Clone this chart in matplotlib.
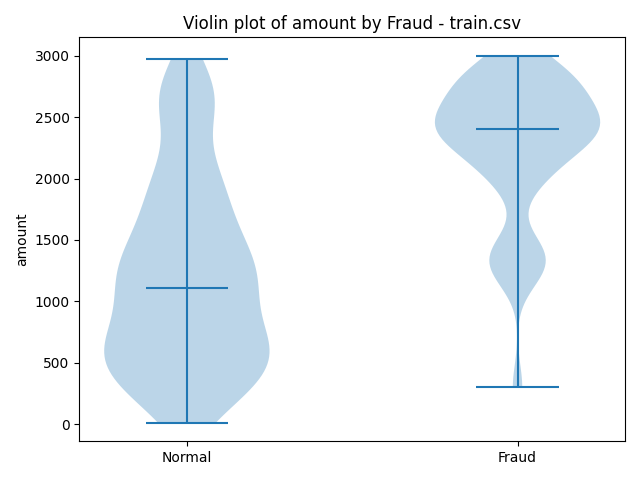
import matplotlib
matplotlib.use('Agg')
import matplotlib.pyplot as plt

# amount samples per class (hand-read to match the shapes)
normal_amount = [10, 120, 180, 230, 280, 320, 360, 400, 430, 460, 490,
                 520, 550, 580, 610, 640, 670, 700,
                 740, 780, 820, 870, 920, 970, 1020, 1070, 1110, 1135,
                 1170, 1210, 1250, 1290, 1330, 1370, 1410,
                 1460, 1510, 1570, 1630, 1700, 1770, 1840, 1910, 1980, 2050, 2150,
                 2300, 2500, 2580, 2650, 2720, 2800, 2975]
fraud_amount = [300, 1150, 1250, 1300, 1330, 1360, 1420, 1500,
                1900, 1980, 2050, 2100, 2150, 2200,
                2230, 2260, 2290, 2320, 2350, 2370, 2390, 2400,
                2410, 2430, 2460, 2480, 2490, 2520, 2540, 2560, 2600, 2650, 2680,
                2700, 2740, 2760, 2780, 2820, 2840, 2870, 2920, 2960, 3000]
labels = ['Normal', 'Fraud']

fig, ax = plt.subplots()
ax.violinplot([normal_amount, fraud_amount], showmedians=True, bw_method=0.3)
ax.set_xticks([1, 2])
ax.set_xticklabels(labels)
ax.set_ylabel('amount')
ax.set_title('Violin plot of amount by Fraud - train.csv')
fig.tight_layout()
fig.savefig('out.png')
plt.close()
